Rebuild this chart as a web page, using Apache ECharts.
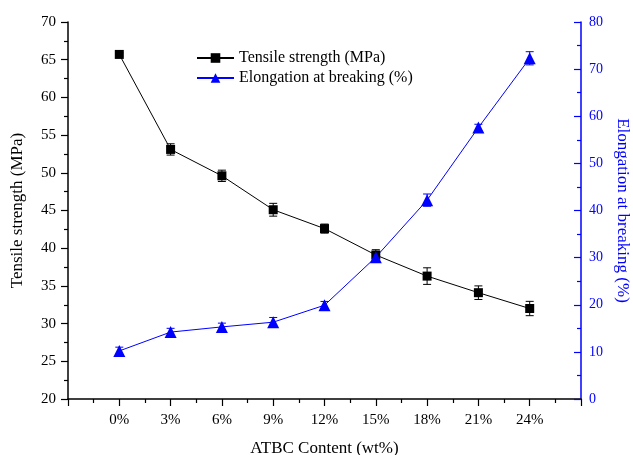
<!DOCTYPE html>
<html>
<head>
<meta charset="utf-8">
<script src="https://cdn.jsdelivr.net/npm/echarts@6/dist/echarts.min.js"></script>
<style>html,body{margin:0;padding:0;background:#fff}#c{width:633px;height:455px}</style>
</head>
<body>
<div id="c"></div>
<script>
const atbc = [0, 3, 6, 9, 12, 15, 18, 21, 24];
const tensile = [65.7, 53.1, 49.6, 45.1, 42.6, 39.1, 36.3, 34.1, 32.0];
const tensileErr = [0.2, 0.75, 0.75, 0.85, 0.6, 0.7, 1.1, 0.9, 0.95];
const elongation = [10.2, 14.2, 15.3, 16.3, 19.9, 30.1, 42.2, 57.6, 72.3];
const elongationErr = [0.8, 0.8, 0.8, 1.0, 0.8, 0.9, 1.3, 0.7, 1.4];

const FONT = '"Liberation Serif","Times New Roman",serif';
const BLUE = '#0000ff';

function pairs(vals){ return atbc.map((x,i)=>[x, vals[i]]); }
function errData(vals, errs){ return atbc.map((x,i)=>[x, vals[i]-errs[i], vals[i]+errs[i]]); }
function errRender(color){
  return function(params, api){
    const lo = api.coord([api.value(0), api.value(1)]);
    const hi = api.coord([api.value(0), api.value(2)]);
    const w = 4;
    const st = {stroke: color, lineWidth: 1};
    return {type:'group', children:[
      {type:'line', shape:{x1:lo[0],y1:lo[1],x2:hi[0],y2:hi[1]}, style:st},
      {type:'line', shape:{x1:lo[0]-w,y1:lo[1],x2:lo[0]+w,y2:lo[1]}, style:st},
      {type:'line', shape:{x1:hi[0]-w,y1:hi[1],x2:hi[0]+w,y2:hi[1]}, style:st}
    ]};
  };
}

const chart = echarts.init(document.getElementById('c'));
chart.setOption({
  animation: false,
  backgroundColor: '#fff',
  grid: {left: 68, right: 52, top: 22, bottom: 56, containLabel: false, outerBoundsMode: 'none'},
  legend: {
    orient: 'vertical', left: 191, top: 45, itemWidth: 37, itemHeight: 12, itemGap: 4,
    textStyle: {fontFamily: FONT, fontSize: 16, color: '#000'},
    data: ['Tensile strength (MPa)', 'Elongation at breaking (%)']
  },
  xAxis: {
    type: 'value', min: -3, max: 27, interval: 3,
    name: 'ATBC Content (wt%)', nameLocation: 'middle', nameGap: 41,
    nameTextStyle: {fontFamily: FONT, fontSize: 17, color: '#000'},
    axisLine: {onZero: false, lineStyle: {color: '#000', width: 1.5}},
    axisTick: {inside: false, length: 7, lineStyle: {color: '#000', width: 1.2}},
    minorTick: {show: true, splitNumber: 2, length: 4, lineStyle: {color: '#000', width: 1.2}},
    axisLabel: {fontFamily: FONT, fontSize: 15, color: '#000', margin: 14,
      formatter: v => (v >= 0 && v <= 24) ? v + '%' : ''},
    splitLine: {show: false}
  },
  yAxis: [{
    type: 'value', min: 20, max: 70, interval: 5, position: 'left',
    name: 'Tensile strength (MPa)', nameLocation: 'middle', nameGap: 42, nameRotate: 90,
    nameTextStyle: {fontFamily: FONT, fontSize: 17, color: '#000'},
    axisLine: {show: true, onZero: false, lineStyle: {color: '#000', width: 1.5}},
    axisTick: {show: true, inside: false, length: 7, lineStyle: {color: '#000', width: 1.2}},
    minorTick: {show: true, splitNumber: 2, length: 4, lineStyle: {color: '#000', width: 1.2}},
    axisLabel: {fontFamily: FONT, fontSize: 15, color: '#000', margin: 12},
    splitLine: {show: false}
  }, {
    type: 'value', min: 0, max: 80, interval: 10, position: 'right',
    name: 'Elongation at breaking (%)', nameLocation: 'middle', nameGap: 31, nameRotate: -90,
    nameTextStyle: {fontFamily: FONT, fontSize: 17, color: BLUE},
    axisLine: {show: true, onZero: false, lineStyle: {color: BLUE, width: 1.5}},
    axisTick: {show: true, inside: true, length: 7, lineStyle: {color: BLUE, width: 1.2}},
    minorTick: {show: true, splitNumber: 2, length: 4, lineStyle: {color: BLUE, width: 1.2}},
    axisLabel: {fontFamily: FONT, fontSize: 14, color: BLUE, margin: 8},
    splitLine: {show: false}
  }],
  series: [{
    name: 'Tensile strength (MPa)', type: 'line', yAxisIndex: 0,
    data: pairs(tensile), symbol: 'rect', symbolSize: 9,
    lineStyle: {color: '#000', width: 1}, itemStyle: {color: '#000'}, z: 3
  }, {
    name: 'Elongation at breaking (%)', type: 'line', yAxisIndex: 1,
    data: pairs(elongation), symbol: 'triangle', symbolSize: 12,
    lineStyle: {color: BLUE, width: 1}, itemStyle: {color: BLUE}, z: 3
  }, {
    type: 'custom', yAxisIndex: 0, renderItem: errRender('#000'),
    data: errData(tensile, tensileErr), encode: {x: 0, y: [1, 2]}, z: 2, silent: true
  }, {
    type: 'custom', yAxisIndex: 1, renderItem: errRender(BLUE),
    data: errData(elongation, elongationErr), encode: {x: 0, y: [1, 2]}, z: 2, silent: true
  }]
});
</script>
</body>
</html>
